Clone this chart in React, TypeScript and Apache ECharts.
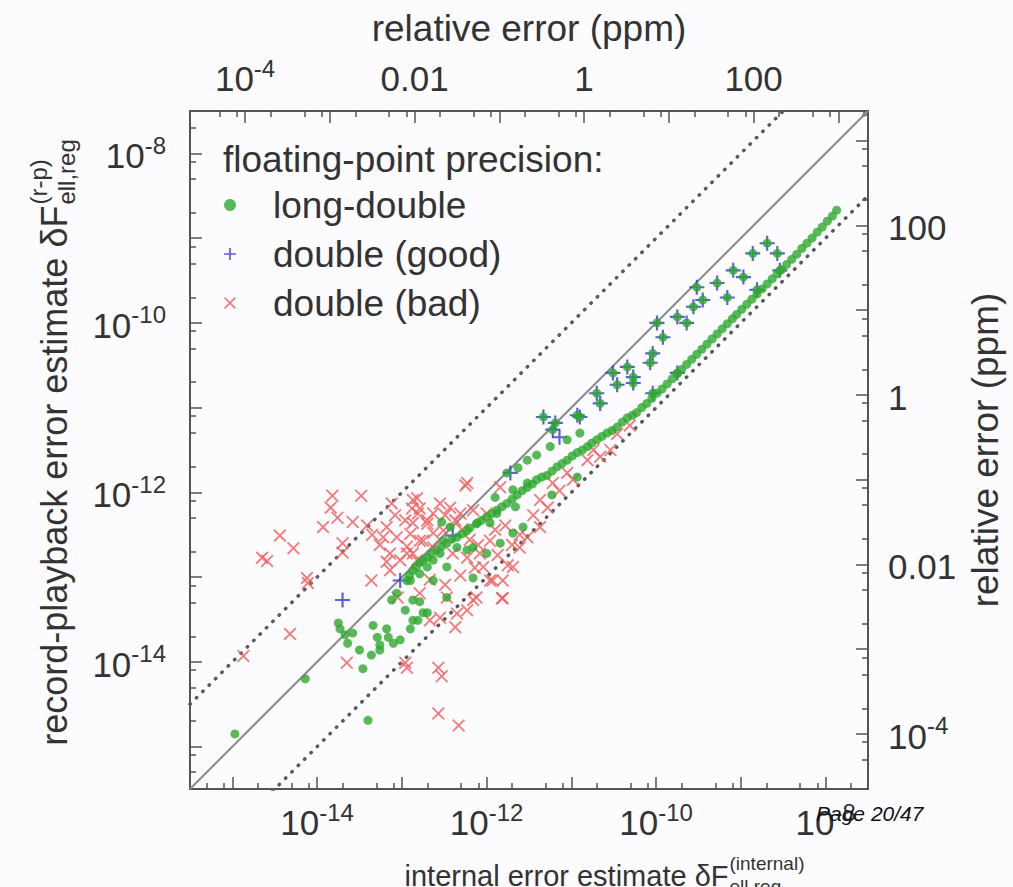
import React, { useEffect, useRef } from 'react';
import * as echarts from 'echarts';

const FONT = '"Liberation Sans", Arial, Helvetica, sans-serif';
const TEXT = '#333333';
const AXIS = '#555555';
const GREEN = '#2ea82e';
const BLUE = '#3434d8';
const RED = '#f05a5a';

// ---- axis definitions (log10 exponents) ----
const ERR_EXP_RANGE = [-15.5, -7.5];
const PPM_EXP_RANGE = [-4.65, 3.35];
const ERR_DECADES = [-15, -14, -13, -12, -11, -10, -9, -8];
const ERR_LABELS = [-14, -12, -10, -8];
const PPM_DECADES = [-4, -3, -2, -1, 0, 1, 2, 3];
const PPM_LABELS = [-4, -2, 0, 2];
const PPM_LABEL_TEXT = ['{b|10}{s|-4}', '{b|0.01}', '{b|1}', '{b|100}'];
const MINOR_MANTISSAS = [2, 5, 8];
const REF_RATIOS = [1, 10, 0.1];

// ---- data: log10(internal estimate), log10(record-playback estimate) ----
const longDoubleScatter: [number, number][] = [
  [-14.97, -14.85], [-14.14, -14.2], [-13.4, -14.69], [-13.46, -14.08],
  [-13.75, -13.54], [-13.73, -13.61], [-13.67, -13.68], [-13.64, -13.78], [-13.58, -13.66], [-13.5, -13.86],
  [-13.36, -13.92], [-13.26, -13.86], [-13.34, -13.57], [-13.18, -13.61], [-13.29, -13.71], [-13.16, -13.71],
  [-13.26, -13.8], [-13.1, -13.78], [-13.02, -13.74], [-12.9, -13.61], [-12.81, -13.51], [-12.7, -13.42],
  [-13.12, -13.27], [-13.06, -13.19], [-12.87, -13.27], [-12.79, -13.29], [-12.47, -13.24], [-12.9, -13.04],
  [-12.79, -12.96], [-12.7, -12.88], [-12.63, -12.8], [-12.55, -12.72], [-12.16, -13.01], [-12.53, -12.35],
  [-12.35, -12.53], [-12.2, -12.42], [-12.11, -12.36], [-11.96, -12.36], [-11.88, -12.25], [-12.16, -12.65],
  [-12.0, -12.72], [-11.84, -12.6], [-11.69, -12.48], [-11.57, -12.41], [-11.9, -12.06], [-11.69, -11.97],
  [-11.52, -11.89],
];
const longDoubleLowerBand: [number, number][] = [
  [-10.34, -11.12], [-10.4, -11.17], [-10.46, -11.23], [-10.52, -11.27], [-10.58, -11.3], [-10.64, -11.34],
  [-10.7, -11.38], [-10.76, -11.42], [-10.81, -11.46], [-10.87, -11.5], [-10.93, -11.53], [-10.99, -11.57],
  [-11.05, -11.62], [-11.11, -11.66], [-11.17, -11.7], [-11.23, -11.75], [-11.29, -11.8], [-11.35, -11.82],
  [-11.41, -11.85], [-11.46, -11.9], [-11.52, -11.94], [-11.58, -11.98], [-11.64, -12.03], [-11.7, -12.08],
  [-11.76, -12.13], [-11.82, -12.17], [-11.88, -12.21], [-11.94, -12.25], [-12.0, -12.29], [-12.06, -12.33],
  [-12.12, -12.37], [-12.23, -12.45], [-12.29, -12.49], [-12.41, -12.55], [-12.47, -12.6], [-12.53, -12.64],
  [-12.59, -12.68], [-12.65, -12.72], [-12.7, -12.77], [-12.75, -12.8], [-12.79, -12.83], [-12.83, -12.88],
  [-12.87, -12.92], [-12.91, -12.98], [-12.94, -13.04],
];
const longDoubleUpperBand: [number, number][] = [
  [-11.52, -11.62], [-11.41, -11.56], [-11.25, -11.46], [-11.05, -11.38], [-10.9, -11.3], [-11.63, -11.71],
  [-11.76, -11.77], [-12.43, -12.41], [-12.51, -12.57], [-12.35, -12.65], [-12.23, -12.68], [-10.93, -11.82],
  [-11.23, -12.03], [-11.66, -12.17], [-12.47, -12.88], [-12.63, -13.04], [-12.96, -13.39], [-12.87, -13.51],
  [-12.75, -13.42],
];
const longDoubleHighLine: [number, number][] = [
  [-10.28, -11.09], [-10.23, -11.06], [-10.17, -11.0], [-10.11, -10.95], [-10.05, -10.89], [-9.99, -10.83],
  [-9.93, -10.78], [-9.87, -10.72], [-9.81, -10.66], [-9.75, -10.6], [-9.7, -10.55], [-9.64, -10.49],
  [-9.58, -10.43], [-9.52, -10.37], [-9.46, -10.31], [-9.4, -10.25], [-9.34, -10.19], [-9.28, -10.13],
  [-9.22, -10.07], [-9.16, -10.01], [-9.1, -9.95], [-9.05, -9.9], [-8.99, -9.84], [-8.93, -9.78],
  [-8.87, -9.72], [-8.81, -9.66], [-8.75, -9.6], [-8.69, -9.54], [-8.63, -9.48], [-8.57, -9.42],
  [-8.52, -9.37], [-8.46, -9.31], [-8.4, -9.25], [-8.34, -9.19], [-8.28, -9.12], [-8.22, -9.06],
  [-8.16, -9.0], [-8.1, -8.93], [-8.04, -8.87], [-7.98, -8.8], [-7.92, -8.74], [-7.87, -8.67],
];
// points where long-double and double (good) coincide
const sharedGoodPoints: [number, number][] = [
  [-11.33, -11.11], [-11.22, -11.26], [-10.9, -11.11], [-10.7, -10.83], [-10.66, -10.95], [-10.46, -10.73],
  [-10.27, -10.71], [-10.04, -10.83], [-11.19, -11.18], [-10.93, -11.09], [-10.51, -10.59], [-10.34, -10.52],
  [-10.27, -10.64], [-10.07, -10.47], [-9.99, -10.0], [-9.92, -10.17], [-10.04, -10.36], [-9.75, -9.93],
  [-9.64, -10.0], [-9.52, -9.58], [-9.56, -9.81], [-9.45, -9.73], [-9.28, -9.53], [-9.16, -9.7],
  [-9.09, -9.38], [-8.97, -9.46], [-8.86, -9.18], [-8.69, -9.06], [-8.81, -9.61], [-8.57, -9.18],
  [-8.54, -9.38], [-9.75, -10.59],
];
const doubleGoodOnly: [number, number][] = [
  [-13.7, -13.27], [-13.02, -13.04], [-12.4, -12.51], [-11.72, -11.77], [-11.14, -11.35],
];
const doubleBad: [number, number][] = [
  [-13.82, -12.04], [-13.84, -12.18], [-13.48, -12.04], [-13.76, -12.3], [-13.93, -12.41], [-13.58, -12.35],
  [-13.41, -12.39], [-14.44, -12.51], [-14.28, -12.66], [-14.65, -12.77], [-14.59, -12.81], [-13.7, -12.6],
  [-13.7, -12.71], [-13.12, -12.13], [-12.82, -12.07], [-12.88, -12.19], [-12.81, -12.25], [-12.55, -12.13],
  [-12.25, -11.92], [-13.18, -12.82], [-13.36, -13.04], [-14.11, -13.07], [-14.12, -13.01], [-14.32, -13.67],
  [-14.87, -13.93], [-13.65, -14.01], [-12.96, -14.01], [-12.94, -14.07], [-12.57, -14.07], [-12.53, -14.17],
  [-12.57, -14.61], [-12.33, -14.75], [-13.05, -13.24], [-12.79, -13.19], [-12.47, -13.24], [-11.82, -13.25],
  [-11.96, -13.04], [-12.16, -13.27], [-12.23, -13.39], [-12.67, -13.51], [-12.37, -13.59], [-11.69, -12.88],
  [-11.61, -12.65], [-12.23, -11.89], [-11.84, -11.94], [-11.37, -12.09], [-11.22, -11.89], [-11.05, -11.77],
  [-10.98, -11.85], [-10.81, -11.62], [-10.66, -11.58], [-10.54, -11.5], [-10.46, -11.31], [-10.74, -11.5],
  [-11.81, -13.04], [-11.81, -13.25], [-11.93, -13.04], [-11.52, -12.53], [-11.37, -12.41], [-12.12, -13.24],
  [-12.35, -13.43], [-12.55, -13.48], [-12.87, -12.09], [-12.79, -12.19], [-12.63, -12.25], [-12.43, -12.18],
  [-12.31, -12.25], [-12.16, -12.21], [-12.0, -12.25], [-12.7, -12.37], [-12.51, -12.45], [-12.9, -12.49],
  [-12.79, -12.57], [-12.63, -12.65], [-12.94, -12.72], [-12.82, -12.8], [-12.4, -12.72], [-12.23, -12.77],
  [-12.08, -12.72], [-11.96, -12.57], [-12.04, -12.88], [-13.18, -12.41], [-13.06, -12.53], [-12.87, -12.36],
  [-12.7, -12.33], [-12.94, -12.64], [-13.14, -12.72], [-13.22, -12.53], [-13.02, -12.8], [-12.87, -12.72],
  [-12.63, -12.48], [-12.75, -12.57], [-10.31, -11.21], [-11.14, -11.98], [-11.45, -12.27], [-11.28, -12.18],
  [-13.08, -12.27], [-12.96, -12.33], [-12.49, -12.27], [-12.37, -12.33], [-12.29, -12.44], [-12.2, -12.56],
  [-12.1, -12.62], [-11.9, -12.44], [-11.78, -12.39], [-11.7, -12.62], [-11.61, -12.5], [-11.87, -12.74],
  [-11.75, -12.86], [-12.14, -12.89], [-12.31, -12.98], [-12.67, -13.03], [-12.49, -13.09], [-13.14, -12.92],
  [-13.26, -12.62], [-13.35, -12.5],
];

const pow = (e: number) => Math.pow(10, e);
const toValues = (arr: [number, number][]) => arr.map(([a, b]) => [pow(a), pow(b)]);

const PLUS = 'path://M6,0H8V6H14V8H8V14H6V8H0V6H6Z';
const CROSS = 'path://M0,1.4L1.4,0L7,5.6L12.6,0L14,1.4L8.4,7L14,12.6L12.6,14L7,8.4L1.4,14L0,12.6L5.6,7Z';

function minorValues(range: number[]) {
  const out: number[] = [];
  for (let e = Math.floor(range[0]); e <= Math.ceil(range[1]); e++) {
    MINOR_MANTISSAS.forEach((m) => {
      const v = m * pow(e);
      if (v >= pow(range[0]) && v <= pow(range[1])) out.push(v);
    });
  }
  return out;
}

function textWidth(t: string, size: number, style = '') {
  const ctx = document.createElement('canvas').getContext('2d');
  if (!ctx) return t.length * size * 0.5;
  ctx.font = `${style} ${size}px ${FONT}`;
  return ctx.measureText(t).width;
}

const LABEL_SIZE = 35;
const SUP_SIZE = 24;
const rich = {
  b: { fontSize: LABEL_SIZE, fontFamily: FONT, color: TEXT, lineHeight: 40, padding: [8, 0, 0, 0], verticalAlign: 'bottom' },
  s: { fontSize: SUP_SIZE, fontFamily: FONT, color: TEXT, lineHeight: 26, verticalAlign: 'top' },
};

const errLabel = (v: number) => {
  const e = Math.round(Math.log10(v));
  return `{b|10}{s|${e}}`;
};
const ppmLabel = (v: number) => {
  const e = Math.round(Math.log10(v));
  const i = PPM_LABELS.indexOf(e);
  return i >= 0 ? PPM_LABEL_TEXT[i] : '';
};

function mainAxis(range: number[], decades: number[], labels: number[], position: string, margin: number, formatter: (v: number) => string, extra: any = {}) {
  return {
    type: 'log',
    logBase: 10,
    gridIndex: 0,
    position,
    min: pow(range[0]),
    max: pow(range[1]),
    axisLine: { show: true, lineStyle: { color: AXIS, width: 2 } },
    axisTick: { show: true, inside: true, length: 12, customValues: decades.map(pow), lineStyle: { color: AXIS, width: 1.5 } },
    minorTick: { show: false },
    splitLine: { show: false },
    axisLabel: { show: true, customValues: labels.map(pow), formatter, margin, rich, fontFamily: FONT, color: TEXT },
    ...extra,
  };
}
function minorAxis(range: number[], position: string) {
  return {
    type: 'log',
    logBase: 10,
    gridIndex: 0,
    position,
    min: pow(range[0]),
    max: pow(range[1]),
    axisLine: { show: false },
    axisTick: { show: true, inside: true, length: 6, customValues: minorValues(range), lineStyle: { color: AXIS, width: 1.5 } },
    minorTick: { show: false },
    splitLine: { show: false },
    axisLabel: { show: false },
  };
}

function scriptName(main: string, sup: string, sub: string, size: number, ssize: number) {
  const wMain = textWidth(main, size);
  const wSup = textWidth(sup, ssize);
  const wSub = textWidth(sub, ssize);
  const total = wMain + Math.max(wSup, wSub);
  const base = { fontFamily: FONT, fill: TEXT, align: 'left', textAlign: 'left', verticalAlign: 'middle', textVerticalAlign: 'middle' };
  return [
    { type: 'text', x: -total / 2, y: 0, style: { ...base, text: main, fontSize: size } },
    { type: 'text', x: -total / 2 + wMain + 1, y: -0.42 * size, style: { ...base, text: sup, fontSize: ssize } },
    { type: 'text', x: -total / 2 + wMain + 1, y: 0.36 * size, style: { ...base, text: sub, fontSize: ssize } },
  ];
}

export default function App() {
  const ref = useRef<HTMLDivElement>(null);
  useEffect(() => {
    if (!ref.current) return;
    const chart = echarts.init(ref.current, null, { renderer: 'svg' });
    const lo = pow(ERR_EXP_RANGE[0]);
    const hi = pow(ERR_EXP_RANGE[1]);
    const refSeries = REF_RATIOS.map((r) => ({
      type: 'line',
      xAxisIndex: 0,
      yAxisIndex: 0,
      silent: true,
      showSymbol: false,
      symbol: 'none',
      clip: true,
      z: 1,
      data: [[lo, lo * r], [hi, hi * r]],
      lineStyle: r === 1
        ? { color: '#8a8a8a', width: 2, type: 'solid' }
        : { color: '#5a5a5a', width: 3.5, type: [0.5, 8.5], cap: 'round' },
    }));
    const option: any = {
      animation: false,
      backgroundColor: '#fcfcfe',
      grid: { left: 190, top: 111, width: 678, height: 678, containLabel: false, outerBoundsMode: 'none' },
      legend: {
        data: ['long-double', 'double (good)', 'double (bad)'],
        orient: 'vertical',
        left: 224,
        top: 185,
        itemWidth: 12,
        itemHeight: 12,
        itemGap: 9,
        padding: 0,
        selectedMode: false,
        textStyle: { fontSize: 37, fontFamily: FONT, color: TEXT, lineHeight: 40, padding: [0, 0, 0, 32] },
      },
      xAxis: [
        mainAxis(ERR_EXP_RANGE, ERR_DECADES, ERR_LABELS, 'bottom', 11, errLabel),
        mainAxis(PPM_EXP_RANGE, PPM_DECADES, PPM_LABELS, 'top', 15, ppmLabel, {
          name: 'relative error (ppm)', nameLocation: 'middle', nameGap: 64,
          nameTextStyle: { fontSize: 37, fontFamily: FONT, color: TEXT },
        }),
        minorAxis(ERR_EXP_RANGE, 'bottom'),
        minorAxis(PPM_EXP_RANGE, 'top'),
      ],
      yAxis: [
        mainAxis(ERR_EXP_RANGE, ERR_DECADES, ERR_LABELS, 'left', 24, errLabel),
        mainAxis(PPM_EXP_RANGE, PPM_DECADES, PPM_LABELS, 'right', 20, ppmLabel, {
          name: 'relative error (ppm)', nameLocation: 'middle', nameGap: 84, nameRotate: 90,
          nameTextStyle: { fontSize: 37, fontFamily: FONT, color: TEXT },
        }),
        minorAxis(ERR_EXP_RANGE, 'left'),
        minorAxis(PPM_EXP_RANGE, 'right'),
      ],
      series: [
        ...refSeries,
        {
          name: 'double (good)', type: 'scatter', xAxisIndex: 0, yAxisIndex: 0, z: 3,
          symbol: PLUS, symbolSize: 15, itemStyle: { color: BLUE },
          data: toValues([...sharedGoodPoints, ...doubleGoodOnly]),
        },
        {
          name: 'double (bad)', type: 'scatter', xAxisIndex: 0, yAxisIndex: 0, z: 3,
          symbol: CROSS, symbolSize: 13, itemStyle: { color: RED },
          data: toValues(doubleBad),
        },
        {
          name: 'long-double', type: 'scatter', xAxisIndex: 0, yAxisIndex: 0, z: 4,
          symbol: 'circle', symbolSize: 9, itemStyle: { color: GREEN },
          data: toValues([...longDoubleScatter, ...longDoubleLowerBand, ...longDoubleUpperBand, ...longDoubleHighLine, ...sharedGoodPoints]),
        },
      ],
      graphic: [
        {
          type: 'text', x: 223, y: 159, z: 10,
          style: { text: 'floating-point precision:', fontSize: 37, fontFamily: FONT, fill: TEXT, verticalAlign: 'middle', textVerticalAlign: 'middle' },
        },
        {
          type: 'group', x: 54, y: 443, rotation: Math.PI / 2, z: 10,
          children: scriptName('record-playback error estimate δF', '(r-p)', 'ell,reg', 36, 24),
        },
        {
          type: 'group', x: 604, y: 876, z: 10,
          children: scriptName('internal error estimate δF', '(internal)', 'ell,reg', 29, 19),
        },
        {
          type: 'text', x: 816, y: 813, z: 100,
          style: { text: 'Page 20/47', fontSize: 21, fontStyle: 'italic', fontFamily: FONT, fill: '#111111', verticalAlign: 'middle', textVerticalAlign: 'middle' },
        },
      ],
    };
    chart.setOption(option);
    return () => chart.dispose();
  }, []);
  return <div ref={ref} style={{ position: 'absolute', left: 0, top: 0, width: 1013, height: 887 }} />;
}
